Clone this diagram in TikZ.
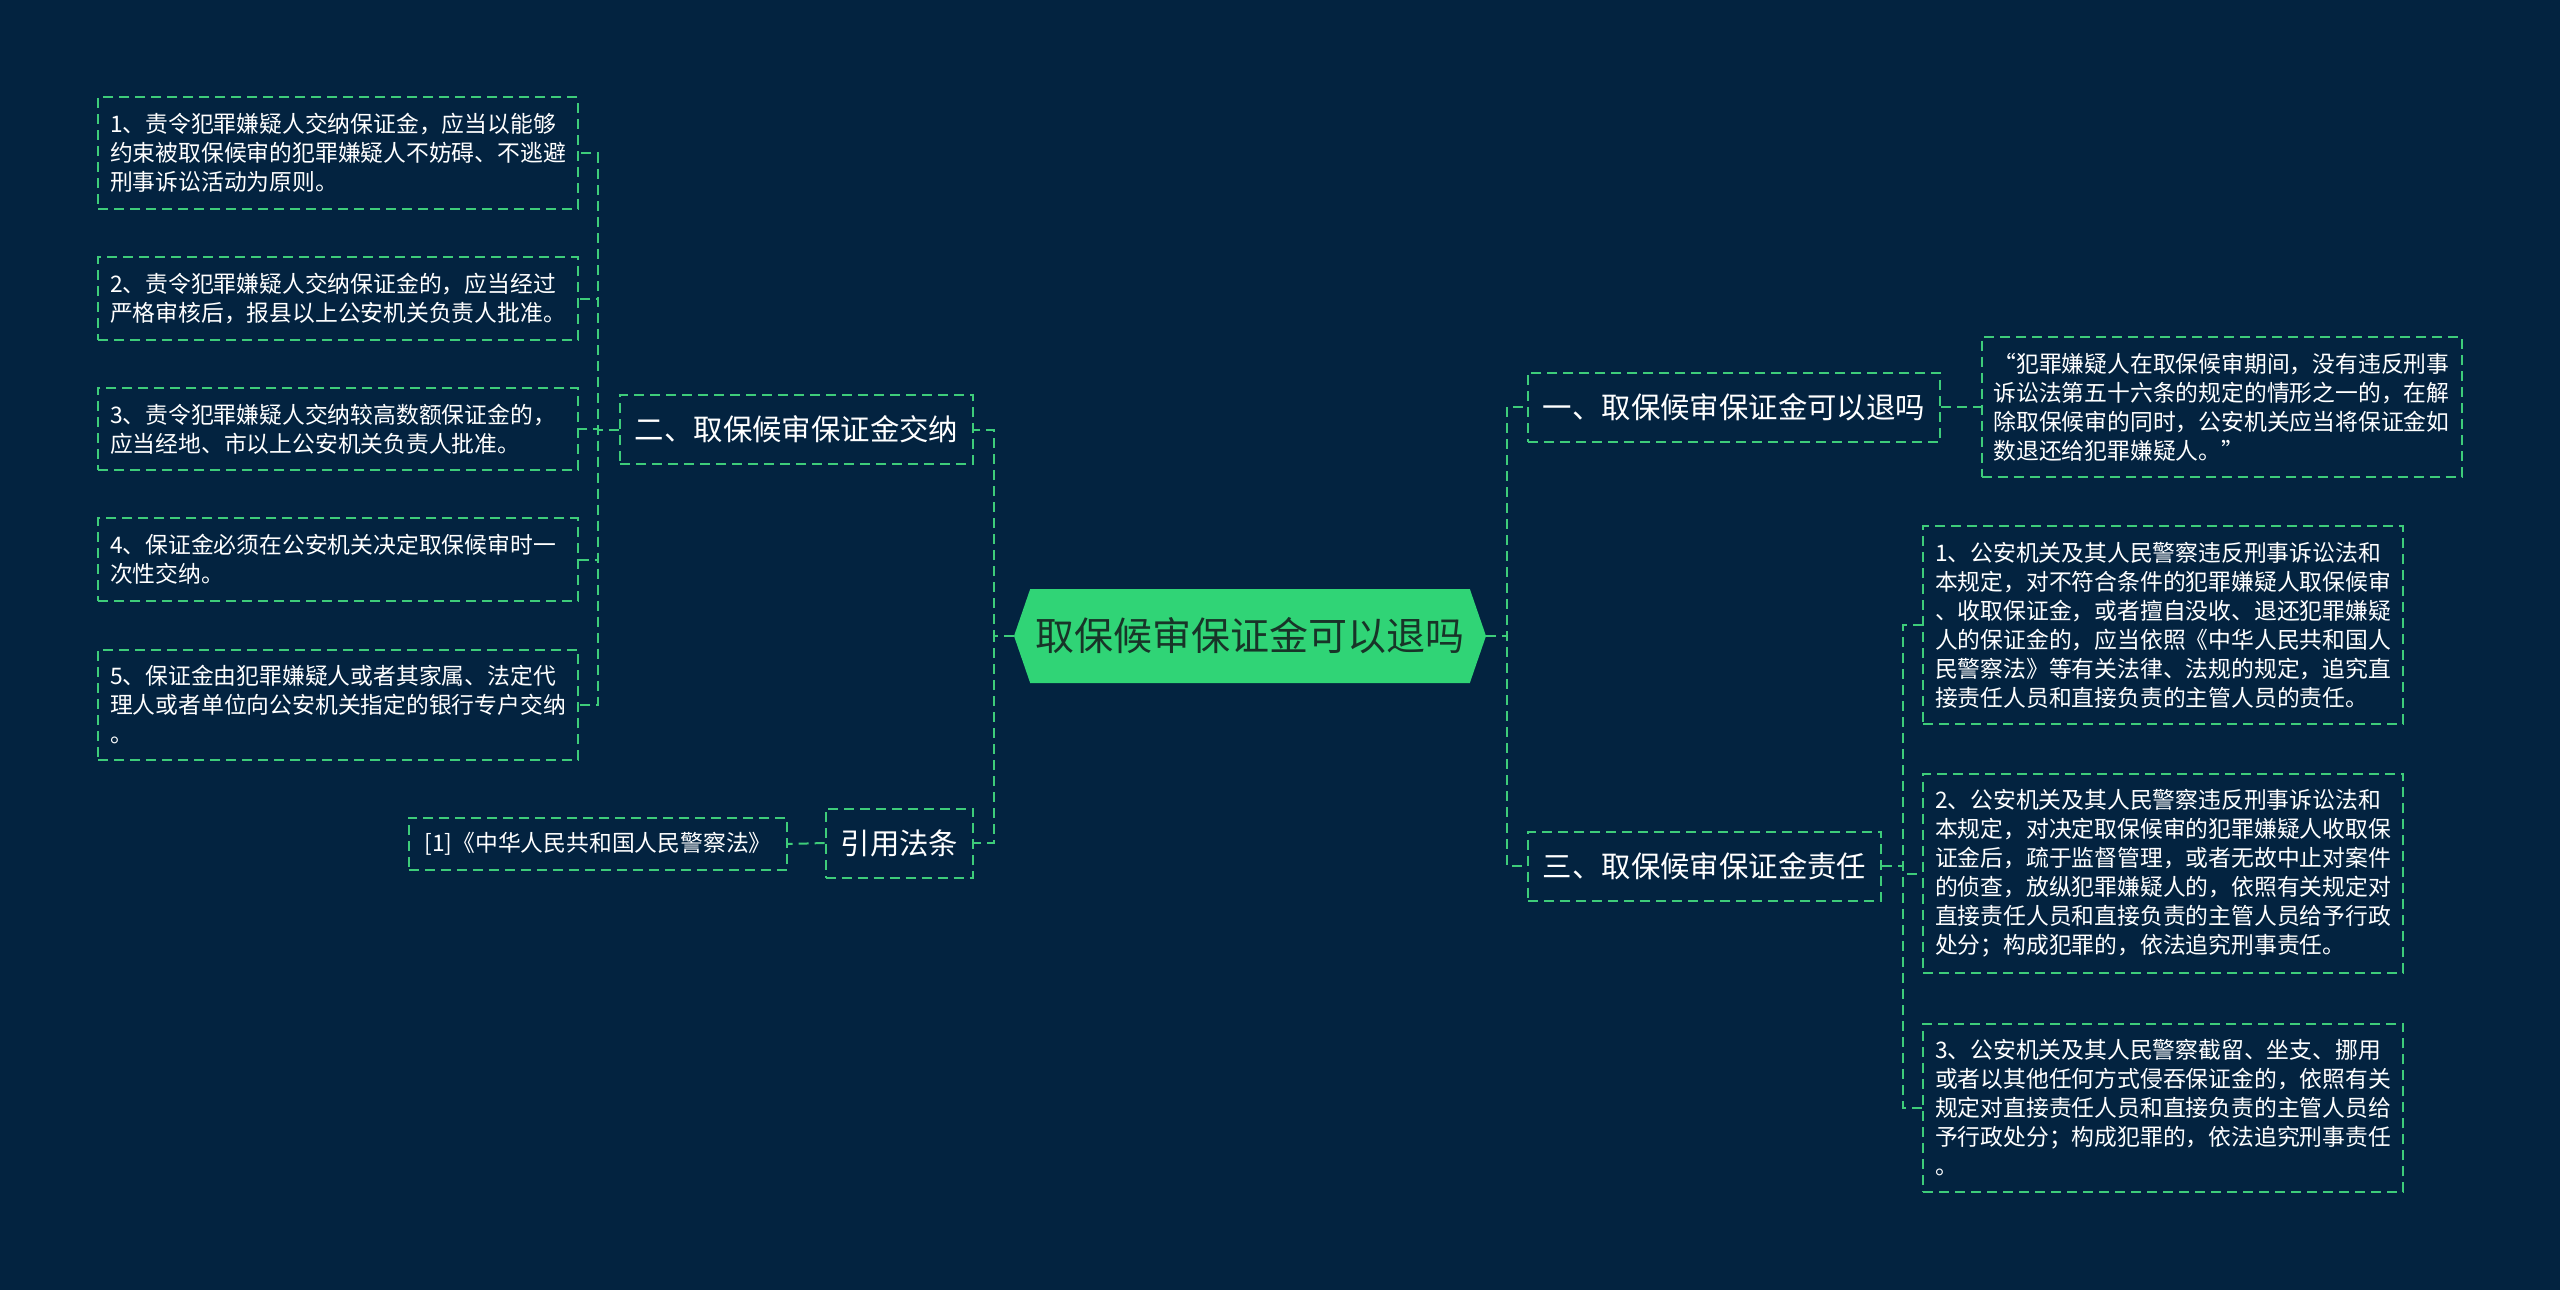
\documentclass[tikz,border=0pt]{standalone}
\usepackage{fontspec}
\setmainfont{Noto Sans CJK SC}
\usepackage{tikz}
\usetikzlibrary{shapes.symbols}
\definecolor{bgnavy}{RGB}{3,35,64}
\definecolor{leaf}{RGB}{48,212,118}
\definecolor{wire}{RGB}{62,204,122}
\definecolor{rootink}{RGB}{24,52,40}

\begin{document}
\begin{tikzpicture}[x=0.5pt,y=-0.5pt,
 wiredash/.style={draw=wire,line width=1pt,dash pattern=on 5pt off 3pt},
 topic/.style={wiredash,text=white,font=\fontsize{14.7pt}{17pt}\selectfont,inner xsep=7.5pt,inner ysep=0pt,minimum height=34.5pt},
 cite/.style={wiredash,text=white,font=\fontsize{11.4pt}{14.5pt}\selectfont,inner xsep=7.75pt,inner ysep=0pt,minimum height=26pt},
 note/.style={wiredash,text=white,font=\fontsize{11.4pt}{14.5pt}\selectfont,align=left,text width=228pt,inner xsep=6pt,inner ysep=8pt},
 link/.style={wiredash}]
\fill[bgnavy] (0,0) rectangle (2560,1290);
\node[signal,signal to=west and east,signal pointer angle=142,fill=leaf,text=rootink,font=\fontsize{19.5pt}{22pt}\selectfont,minimum width=236pt,minimum height=47pt,inner sep=0pt] (root) at (1250,636) {取保候审保证金可以退吗};
\node[topic] (s2) at (796.5,429.5) {二、取保候审保证金交纳};
\node[topic] (law) at (899.5,843) {引用法条};
\node[cite] (ref) at (598,844) {[1]《中华人民共和国人民警察法》};
\node[topic] (s1) at (1734,407) {一、取保候审保证金可以退吗};
\node[topic] (s3) at (1704.5,866) {三、取保候审保证金责任};
\node[note] (b1) at (338,153) {1、责令犯罪嫌疑人交纳保证金，应当以能够\\约束被取保候审的犯罪嫌疑人不妨碍、不逃避\\刑事诉讼活动为原则。};
\node[note] (b2) at (338,298.5) {2、责令犯罪嫌疑人交纳保证金的，应当经过\\严格审核后，报县以上公安机关负责人批准。};
\node[note] (b3) at (338,429) {3、责令犯罪嫌疑人交纳较高数额保证金的，\\应当经地、市以上公安机关负责人批准。};
\node[note] (b4) at (338,559.5) {4、保证金必须在公安机关决定取保候审时一\\次性交纳。};
\node[note] (b5) at (338,705) {5、保证金由犯罪嫌疑人或者其家属、法定代\\理人或者单位向公安机关指定的银行专户交纳\\。};
\node[note] (q) at (2221.5,407) {“犯罪嫌疑人在取保候审期间，没有违反刑事\\诉讼法第五十六条的规定的情形之一的，在解\\除取保候审的同时，公安机关应当将保证金如\\数退还给犯罪嫌疑人。”};
\node[note] (r1) at (2163,625) {1、公安机关及其人民警察违反刑事诉讼法和\\本规定，对不符合条件的犯罪嫌疑人取保候审\\、收取保证金，或者擅自没收、退还犯罪嫌疑\\人的保证金的，应当依照《中华人民共和国人\\民警察法》等有关法律、法规的规定，追究直\\接责任人员和直接负责的主管人员的责任。};
\node[note] (r2) at (2163,873.5) {2、公安机关及其人民警察违反刑事诉讼法和\\本规定，对决定取保候审的犯罪嫌疑人收取保\\证金后，疏于监督管理，或者无故中止对案件\\的侦查，放纵犯罪嫌疑人的，依照有关规定对\\直接责任人员和直接负责的主管人员给予行政\\处分；构成犯罪的，依法追究刑事责任。};
\node[note] (r3) at (2163,1108) {3、公安机关及其人民警察截留、坐支、挪用\\或者以其他任何方式侵吞保证金的，依照有关\\规定对直接责任人员和直接负责的主管人员给\\予行政处分；构成犯罪的，依法追究刑事责任\\。};
\draw[link] (root.west) -- ++(-20,0) |- (s2.east);
\draw[link] (root.west) -- ++(-20,0) |- (law.east);
\draw[link] (law.west) -- (ref.east);
\foreach \b in {b1,b2,b3,b4,b5}
  \draw[link] (s2.west) -- ++(-21,0) |- (\b.east);
\draw[link] (root.east) -- ++(21,0) |- (s1.west);
\draw[link] (root.east) -- ++(21,0) |- (s3.west);
\draw[link] (s1.east) -- (q.west);
\foreach \r in {r1,r2,r3}
  \draw[link] (s3.east) -- ++(21,0) |- (\r.west);
\end{tikzpicture}
\end{document}
